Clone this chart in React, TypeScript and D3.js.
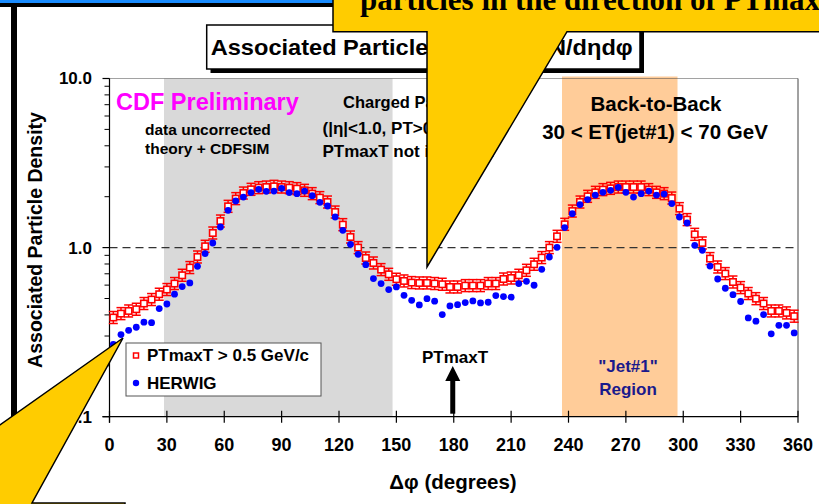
import React from 'react';
import * as d3 from 'd3';

// 4 degree bins, centres 2..358
const BIN_WIDTH = 4;
const phiBins = d3.range(90).map(i => BIN_WIDTH / 2 + BIN_WIDTH * i);

// CDF data, PTmaxT > 0.5 GeV/c (red open squares)
const cdfData = [
  0.386, 0.407, 0.422, 0.432, 0.467, 0.493, 0.530, 0.565, 0.613, 0.686,
  0.762, 0.880, 1.018, 1.220, 1.436, 1.754, 1.948, 2.102, 2.211, 2.262,
  2.281, 2.303, 2.281, 2.262, 2.232, 2.181, 2.085, 1.975, 1.860, 1.623,
  1.367, 1.155, 1.000, 0.868, 0.811, 0.741, 0.695, 0.650, 0.635, 0.621,
  0.618, 0.618, 0.613, 0.607, 0.585, 0.585, 0.596, 0.596, 0.596, 0.613,
  0.613, 0.652, 0.661, 0.686, 0.734, 0.797, 0.873, 1.000, 1.166, 1.373,
  1.645, 1.860, 2.010, 2.122, 2.202, 2.241, 2.281, 2.281, 2.281, 2.281,
  2.202, 2.122, 2.085, 1.964, 1.700, 1.464, 1.198, 1.065, 0.861, 0.768,
  0.702, 0.626, 0.580, 0.535, 0.499, 0.467, 0.422, 0.422, 0.411, 0.393,
];
// relative error on the data points
const cdfErr = 0.085;

// HERWIG + CDFSIM (blue dots)
const herwig = [
  0.268, 0.306, 0.324, 0.338, 0.362, 0.360, 0.436, 0.464, 0.530, 0.588,
  0.618, 0.775, 0.922, 1.065, 1.324, 1.661, 1.886, 1.991, 2.114, 2.211,
  2.151, 2.160, 2.241, 2.114, 2.085, 2.160, 2.029, 1.852, 1.762, 1.517,
  1.265, 1.046, 0.913, 0.793, 0.656, 0.613, 0.565, 0.585, 0.522, 0.488,
  0.458, 0.499, 0.482, 0.402, 0.452, 0.460, 0.473, 0.484, 0.471, 0.475,
  0.520, 0.513, 0.509, 0.613, 0.632, 0.599, 0.744, 0.880, 1.004, 1.313,
  1.588, 1.796, 1.922, 2.046, 2.122, 2.181, 2.272, 2.122, 1.991, 2.085,
  2.160, 2.046, 2.074, 1.820, 1.517, 1.398, 1.032, 0.964, 0.778, 0.652,
  0.575, 0.527, 0.480, 0.384, 0.367, 0.402, 0.309, 0.347, 0.347, 0.313,
];

const xTicks = [0, 30, 60, 90, 120, 150, 180, 210, 240, 270, 300, 330, 360];
const yTicks = [0.1, 1, 10];
const yTickLabels = ['0.1', '1.0', '10.0'];
const transverseBand = [28.5, 148];
const jetBand = [236.6, 297];

const W = 819;
const H = 504;
const FONT = '"Liberation Sans", Arial, sans-serif';

export default function App() {
  const x = d3.scaleLinear().domain([0, 360]).range([109.5, 798]);
  const y = d3.scaleLog().domain([0.1, 10]).range([416.7, 78.5]);
  const top = y(10);
  const bottom = y(0.1);

  const minorTicks: number[] = [];
  [0.1, 1].forEach(dec => {
    for (let k = 2; k <= 9; k++) minorTicks.push(dec * k);
  });

  const pts = phiBins.map((phi, i) => ({phi, d: cdfData[i], h: herwig[i]}));

  return (
    <div style={{position: 'absolute', left: 0, top: 0}}>
      <svg width={W} height={H} style={{display: 'block', background: '#fff'}} fontFamily={FONT}>
        {/* slide frame */}
        <rect x={0} y={0} width={W} height={3} fill="#1a8cff" />
        <rect x={0} y={3} width={W} height={4} fill="#000" />
        <rect x={11} y={7} width={6} height={H} fill="#000" />

        {/* shaded regions */}
        <rect x={x(transverseBand[0])} y={top} width={x(transverseBand[1]) - x(transverseBand[0])}
              height={bottom - top} fill="#d9d9d9" />
        <rect x={x(jetBand[0])} y={top - 2} width={x(jetBand[1]) - x(jetBand[0])}
              height={bottom - top + 2} fill="#ffcc99" />

        {/* plot frame */}
        <line x1={x(0)} x2={x(360)} y1={top} y2={top} stroke="#444" strokeWidth={1} strokeDasharray="1,1" />
        <line x1={x(360)} x2={x(360)} y1={top} y2={bottom} stroke="#444" strokeWidth={1} />
        <line x1={x(0)} x2={x(360)} y1={y(1)} y2={y(1)} stroke="#333" strokeWidth={1.2} strokeDasharray="8,5" />

        {/* y axis */}
        <line x1={x(0)} x2={x(0)} y1={top} y2={bottom + 6} stroke="#000" strokeWidth={1.2} />
        {yTicks.map(t => (
          <line key={'ym' + t} x1={x(0) - 7} x2={x(0)} y1={y(t)} y2={y(t)} stroke="#000" strokeWidth={1.2} />
        ))}
        {minorTicks.map(t => (
          <line key={'yn' + t} x1={x(0) - 5} x2={x(0)} y1={y(t)} y2={y(t)} stroke="#000" strokeWidth={1} />
        ))}
        {yTicks.map((t, i) => (
          <text key={'yl' + t} x={92} y={y(t)} dy="0.35em" textAnchor="end" fontSize={17} fontWeight="bold">
            {yTickLabels[i]}
          </text>
        ))}
        <text transform={`translate(42,${240}) rotate(-90)`} textAnchor="middle" fontSize={19.5} fontWeight="bold">
          Associated Particle Density
        </text>

        {/* x axis */}
        <line x1={x(0) - 7} x2={x(360)} y1={bottom} y2={bottom} stroke="#000" strokeWidth={1.2} />
        {xTicks.map(t => (
          <g key={'xt' + t}>
            <line x1={x(t)} x2={x(t)} y1={bottom - 6} y2={bottom + 6} stroke="#000" strokeWidth={1.2} />
            <text x={x(t)} y={445} dy="0.35em" textAnchor="middle" fontSize={18} fontWeight="bold">{t}</text>
          </g>
        ))}
        <text x={453} y={482} dy="0.35em" textAnchor="middle" fontSize={20.5} fontWeight="bold">
          Δφ  (degrees)
        </text>

        {/* CDF data with error bars */}
        {pts.map(p => {
          const cx = x(p.phi);
          const y1 = y(p.d * (1 + cdfErr));
          const y2 = y(p.d / (1 + cdfErr));
          return (
            <g key={'e' + p.phi} stroke="#ff0000" strokeWidth={1.5}>
              <line x1={cx} x2={cx} y1={y1} y2={y2} />
              <line x1={cx - 4.5} x2={cx + 4.5} y1={y1} y2={y1} />
              <line x1={cx - 4.5} x2={cx + 4.5} y1={y2} y2={y2} />
            </g>
          );
        })}
        {pts.map(p => (
          <rect key={'s' + p.phi} x={x(p.phi) - 3.2} y={y(p.d) - 3.2} width={6.4} height={6.4}
                fill="#fff" stroke="#ff0000" strokeWidth={1.6} />
        ))}
        {pts.map(p => (
          <circle key={'h' + p.phi} cx={x(p.phi)} cy={y(p.h)} r={3.4} fill="#0000ff" />
        ))}

        {/* annotations */}
        <text x={116} y={102} dy="0.35em" fontSize={23.5} fontWeight="bold" fill="#ff00ff">CDF Preliminary</text>
        <text x={145} y={129.5} dy="0.35em" fontSize={15.5} fontWeight="bold">data uncorrected</text>
        <text x={145} y={148.5} dy="0.35em" fontSize={15.5} fontWeight="bold">theory + CDFSIM</text>
        <text x={343} y={102} dy="0.35em" fontSize={16.5} fontWeight="bold">Charged Particles</text>
        <text x={322.5} y={128.5} dy="0.35em" fontSize={17} fontWeight="bold">(|η|&lt;1.0, PT&gt;0.5 GeV/c)</text>
        <text x={322.5} y={151.5} dy="0.35em" fontSize={17} fontWeight="bold">PTmaxT not included</text>
        <text x={656} y={104} dy="0.35em" textAnchor="middle" fontSize={20.5} fontWeight="bold">Back-to-Back</text>
        <text x={655} y={131.5} dy="0.35em" textAnchor="middle" fontSize={20.5} fontWeight="bold">
          30 &lt; ET(jet#1) &lt; 70 GeV
        </text>
        <text x={455} y={357.5} dy="0.35em" textAnchor="middle" fontSize={17} fontWeight="bold">PTmaxT</text>
        <line x1={x(180) - 1} x2={x(180) - 1} y1={bottom - 3} y2={378} stroke="#000" strokeWidth={5} />
        <path d={`M${x(180) - 8.5},381 L${x(180) + 6.5},381 L${x(180) - 1},366 Z`} fill="#000" />
        <text x={628} y={366.5} dy="0.35em" textAnchor="middle" fontSize={17} fontWeight="bold" fill="#1a1a8c">"Jet#1"</text>
        <text x={628} y={389.5} dy="0.35em" textAnchor="middle" fontSize={17} fontWeight="bold" fill="#1a1a8c">Region</text>

        {/* legend */}
        <rect x={126} y={343} width={195} height={53} fill="#fff" stroke="#555" strokeWidth={1} />
        <rect x={133.5} y={353} width={5} height={5} fill="#fff" stroke="#ff0000" strokeWidth={1.5} />
        <text x={147} y={355.5} dy="0.35em" fontSize={17} fontWeight="bold">PTmaxT &gt; 0.5 GeV/c</text>
        <circle cx={136} cy={383} r={3.2} fill="#0000ff" />
        <text x={147} y={383} dy="0.35em" fontSize={17} fontWeight="bold">HERWIG</text>

        {/* title box */}
        <rect x={210.5} y={29} width={433.5} height={44} fill="#000" />
        <rect x={206.7} y={25} width={433.3} height={44} fill="#fff" stroke="#000" strokeWidth={1.5} />
        <text x={210.7} y={55} fontSize={22} fontWeight="bold" textLength={422} lengthAdjust="spacingAndGlyphs">
          Associated Particle Density: dN/dηdφ
        </text>

        {/* callouts */}
        <path d="M333,-2 L333,31.7 L427,31.7 L427,267 L567,31.7 L822,31.7 L822,-2 Z"
              fill="#ffcc00" stroke="#000" strokeWidth={1.5} />
        <text x={360} y={10} fontFamily='"Liberation Serif", "Times New Roman", serif' fontSize={31} fontWeight="bold">
          particles in the direction of PTmaxT
        </text>
        <path d="M-3,427 L123,338 L32,503 L125,503 L125,510 L-3,510 Z"
              fill="#ffcc00" stroke="#000" strokeWidth={1.5} />
      </svg>
    </div>
  );
}
